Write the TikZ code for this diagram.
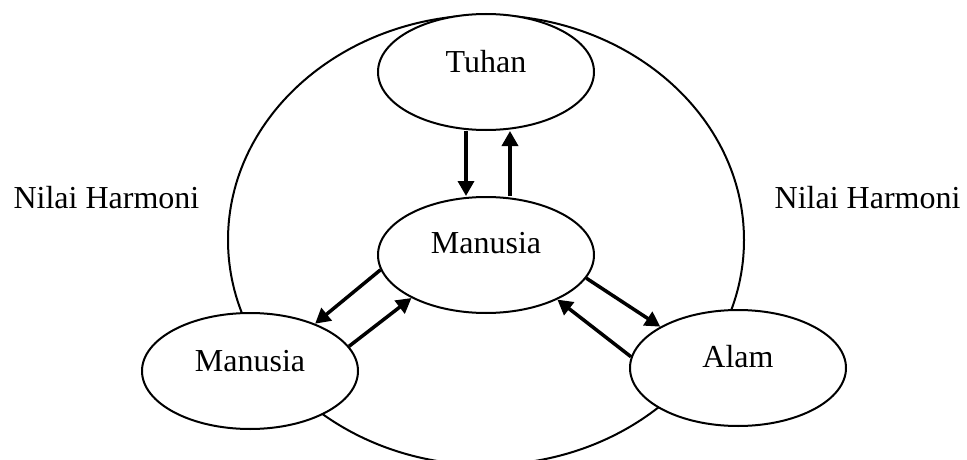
\documentclass[tikz,border=0pt]{standalone}
\usepackage{fontspec}
\setmainfont{Liberation Serif}
\usetikzlibrary{shapes}
\usetikzlibrary{arrows.meta}

\tikzset{
    blob/.style={draw,ellipse,fill=white,line width=2pt,inner sep=0pt,
        minimum width=216pt,minimum height=116pt,text height=22pt,
        font=\fontsize{32}{38}\selectfont},
    link/.style={line width=3.5pt,-{Triangle[length=15pt,width=16pt]}}
}

\begin{document}
\begin{tikzpicture}[x=1pt,y=-1pt]
    \useasboundingbox (0,0) rectangle (967,460);
    \clip (0,0) rectangle (967,460);
    % Harmony circle
    \draw[line width=2pt] (486,240) ellipse [x radius=258, y radius=225];
    % Ellipses
    \node[blob,text depth=20pt] (tuhan) at (486,72) {Tuhan};
    \node[blob,text depth=26pt] (manusia) at (486,255) {Manusia};
    \node[blob,text depth=22pt] (sesama) at (250,371) {Manusia};
    \node[blob,text depth=24pt] (alam) at (738,368) {Alam};
    % Arrows
    \draw[link] ([xshift=-20pt]tuhan.south) to ([xshift=-20pt]manusia.north);
    \draw[link] ([xshift=24pt]manusia.north) to ([xshift=24pt]tuhan.south);
    \draw[link] (manusia.188) to (sesama.36);
    \draw[link] (sesama.14) to (manusia.210);
    \draw[link] (manusia.347) to (alam.152);
    \draw[link] (alam.174) to (manusia.328);
    % Labels
    \node[font=\fontsize{32}{38}\selectfont,anchor=base west] (kiri) at (10,208) {Nilai Harmoni};
    \node[font=\fontsize{32}{38}\selectfont,anchor=base east] (kanan) at (964,208) {Nilai Harmoni};
\end{tikzpicture}
\end{document}
